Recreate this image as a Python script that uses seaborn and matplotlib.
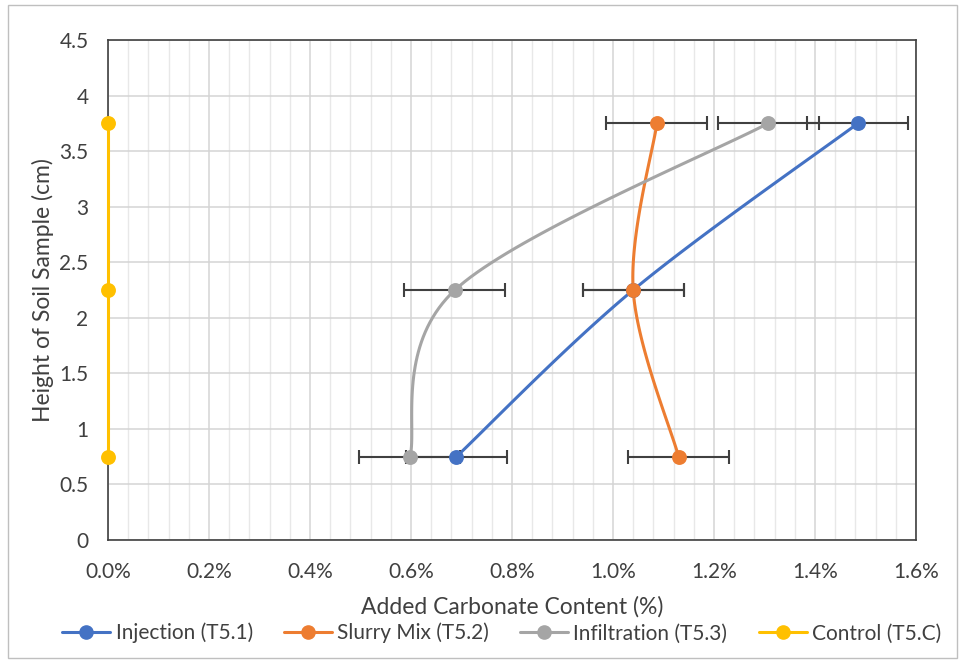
import numpy as np
import matplotlib
matplotlib.use("Agg")
import matplotlib.pyplot as plt
import seaborn as sns
from matplotlib.ticker import MultipleLocator, FuncFormatter
from matplotlib.patches import Rectangle
from matplotlib.lines import Line2D

# data (x in %, y in cm)
heights = [0.75, 2.25, 3.75]
injection = [0.69, 1.04, 1.485]
slurry_mix = [1.13, 1.04, 1.087]
infiltration = [0.598, 0.687, 1.307]
control = [0.0, 0.0, 0.0]
err = 0.1  # horizontal error, %

series = [
    ("Injection (T5.1)", injection, "#4472C4", True),
    ("Slurry Mix (T5.2)", slurry_mix, "#ED7D31", True),
    ("Infiltration (T5.3)", infiltration, "#A5A5A5", True),
    ("Control (T5.C)", control, "#FFC000", False),
]


def smooth(xs, ys, n=40):
    """Excel-like smoothed line: cubic Bezier with Catmull-Rom control points."""
    p = np.column_stack([xs, ys]).astype(float)
    out = []
    for i in range(len(p) - 1):
        p0 = p[i - 1] if i > 0 else p[i]
        p3 = p[i + 2] if i + 2 < len(p) else p[i + 1]
        c1 = p[i] + (p[i + 1] - p0) / 6
        c2 = p[i + 1] - (p3 - p[i]) / 6
        t = np.linspace(0, 1, n)[:, None]
        seg = ((1 - t) ** 3 * p[i] + 3 * (1 - t) ** 2 * t * c1
               + 3 * (1 - t) * t ** 2 * c2 + t ** 3 * p[i + 1])
        out.append(seg if i == 0 else seg[1:])
    out = np.vstack(out)
    return out[:, 0], out[:, 1]


sns.set_theme(style="white")
plt.rcParams["font.family"] = ["Lato", "DejaVu Sans"]

fig = plt.figure(figsize=(9.65, 6.63), dpi=100)
ax = fig.add_axes([0.1119, 0.1855, 0.8373, 0.7541])

handles = []
for name, vals, color, has_err in series:
    sx, sy = smooth(vals, heights)
    sns.lineplot(x=sx, y=sy, sort=False, estimator=None, color=color,
                 lw=2.2, ax=ax, zorder=3, clip_on=False, legend=False)
    if has_err:
        ax.errorbar(vals, heights, xerr=err, fmt="none", ecolor="#404040",
                    elinewidth=1.5, capsize=5, capthick=1.5, zorder=4)
    sns.scatterplot(x=vals, y=heights, color=color, s=115, edgecolor=color,
                    linewidth=0, ax=ax, zorder=5, clip_on=False, legend=False)
    handles.append(Line2D([], [], color=color, lw=2.2, marker="o", ms=9.5, label=name))

ax.set_xlim(0, 1.6)
ax.set_ylim(0, 4.5)
ax.xaxis.set_major_locator(MultipleLocator(0.2))
ax.xaxis.set_minor_locator(MultipleLocator(0.04))
ax.yaxis.set_major_locator(MultipleLocator(0.5))
ax.xaxis.set_major_formatter(FuncFormatter(lambda v, _: f"{v:.1f}%"))
ax.yaxis.set_major_formatter(FuncFormatter(lambda v, _: f"{v:g}"))
ax.grid(which="major", color="#d4d4d4", lw=1.1)
ax.grid(which="minor", axis="x", color="#e8e8e8", lw=1.0)
ax.set_axisbelow(True)
ax.tick_params(which="both", length=0, labelsize=15, colors="#404040")
ax.tick_params(axis="x", pad=16)
ax.tick_params(axis="y", pad=14)
for sp in ax.spines.values():
    sp.set_color("#404040")
    sp.set_linewidth(1.2)

ax.set_xlabel("Added Carbonate Content (%)", fontsize=16.5, color="#404040", labelpad=10)
ax.set_ylabel("Height of Soil Sample (cm)", fontsize=16.5, color="#404040", labelpad=4)

fig.legend(handles=handles, loc="center", bbox_to_anchor=(0.52, 0.045), ncol=4,
           frameon=False, fontsize=15, handlelength=2.3, handletextpad=0.25,
           columnspacing=1.5, labelcolor="#404040")

fig.patches.append(Rectangle((0.008, 0.008), 0.984, 0.984, transform=fig.transFigure,
                             fill=False, edgecolor="#bfbfbf", lw=1))

fig.savefig("out.png", dpi=100)
